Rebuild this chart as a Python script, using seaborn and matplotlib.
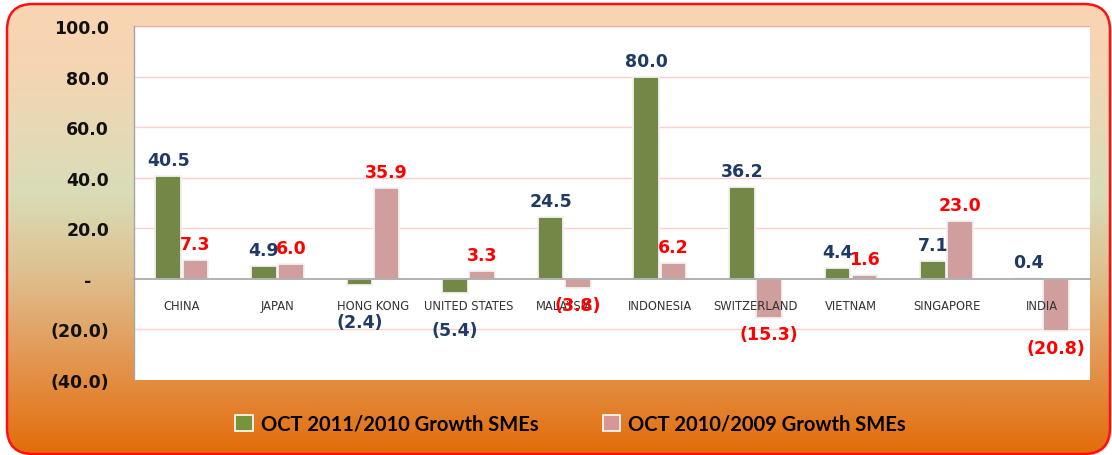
import numpy as np
import pandas as pd
import matplotlib
matplotlib.use("Agg")
import matplotlib.pyplot as plt
import seaborn as sns
from matplotlib.patches import FancyBboxPatch, Patch
from matplotlib.colors import LinearSegmentedColormap
from matplotlib.ticker import FuncFormatter, FixedLocator

# ---- data ----
countries = ["CHINA", "JAPAN", "HONG KONG", "UNITED STATES", "MALAYSIA",
             "INDONESIA", "SWITZERLAND", "VIETNAM", "SINGAPORE", "INDIA"]
growth_2011 = [40.5, 4.9, -2.4, -5.4, 24.5, 80.0, 36.2, 4.4, 7.1, 0.4]
growth_2010 = [7.3, 6.0, 35.9, 3.3, -3.8, 6.2, -15.3, 1.6, 23.0, -20.8]
series_names = ["OCT 2011/2010 Growth SMEs", "OCT 2010/2009 Growth SMEs"]
y_ticks = [-40, -20, 0, 20, 40, 60, 80, 100]

bar_colors = {series_names[0]: "#77933C", series_names[1]: "#D99694"}
label_colors = {series_names[0]: "#1F3A64", series_names[1]: "#FF0000"}

df = pd.DataFrame({
    "country": countries * 2,
    "value": growth_2011 + growth_2010,
    "series": [series_names[0]] * len(countries) + [series_names[1]] * len(countries),
})

sns.set_theme(style="white")
plt.rcParams["font.family"] = ["DejaVu Sans"]

W, H, DPI = 1112, 456, 100
fig = plt.figure(figsize=(W / DPI, H / DPI), dpi=DPI)
fig.patch.set_facecolor("white")

# ---- background panel with gradient and rounded red border ----
bg = fig.add_axes([0, 0, 1, 1], zorder=-5)
bg.set_xlim(0, W)
bg.set_ylim(H, 0)
bg.axis("off")
cmap = LinearSegmentedColormap.from_list("bgc", [
    (0.0, "#F9D4B3"), (0.12, "#F6D5B2"), (0.42, "#D9DDB8"),
    (0.60, "#DEC08F"), (0.80, "#E3954F"), (1.0, "#E36C0A")])
grad = np.linspace(0, 1, 256).reshape(-1, 1)
im = bg.imshow(grad, cmap=cmap, aspect="auto", extent=(7, 1110, 455, 5),
               interpolation="bilinear")
shadow = FancyBboxPatch((10, 8), 1102, 449, boxstyle="round,pad=0,rounding_size=26",
                        facecolor="#D8D8D8", edgecolor="none", zorder=-1, alpha=0.6)
bg.add_patch(shadow)
border = FancyBboxPatch((7, 5), 1103, 450, boxstyle="round,pad=0,rounding_size=26",
                        facecolor="none", edgecolor="#FF1010", linewidth=1.8, zorder=3)
bg.add_patch(border)
im.set_clip_path(border)
im.set_zorder(1)

# ---- main chart ----
ax = fig.add_axes([134 / W, 1 - 381 / H, (1090 - 134) / W, (381 - 27) / H])
ax.set_facecolor("white")
sns.barplot(data=df, x="country", y="value", hue="series", order=countries,
            hue_order=series_names, palette=bar_colors, width=0.57, gap=0.06,
            edgecolor="#F2F2F2", linewidth=1.3, legend=False, ax=ax, zorder=3)

ax.set_ylim(-40, 100)
ax.set_xlim(-0.5, len(countries) - 0.5)
ax.set_xlabel("")
ax.set_ylabel("")

ax.yaxis.set_major_locator(FixedLocator(y_ticks))

def yfmt(v, pos):
    if abs(v) < 1e-9:
        return "-   "
    if v < 0:
        return f"({abs(v):.1f})"
    return f"{v:.1f}"

ax.yaxis.set_major_formatter(FuncFormatter(yfmt))
ax.tick_params(axis="y", which="major", direction="out", length=5, width=1,
               color="#A6A6A6", pad=13, labelsize=12.5, labelcolor="#111111")
for t in ax.get_yticklabels():
    t.set_fontweight("bold")

ax.grid(False)
for yv in y_ticks:
    if yv not in (0, -40):
        ax.axhline(yv, color="#F6A29C" if yv == 100 else "#FFCFCF",
                   linewidth=1.0, zorder=1)

for s in ["top", "right"]:
    ax.spines[s].set_visible(False)
ax.spines["left"].set_color("#A6A6A6")
ax.spines["left"].set_linewidth(1.0)
ax.spines["bottom"].set_position(("data", 0))
ax.spines["bottom"].set_color("#A6A6A6")
ax.spines["bottom"].set_linewidth(1.2)
ax.spines["bottom"].set_zorder(4)

ax.set_xticks(range(len(countries)))
ax.set_xticklabels([])
ax.set_xticks(np.arange(-0.5, len(countries), 1.0), minor=True)
ax.tick_params(axis="x", which="major", length=0)
ax.tick_params(axis="x", which="minor", direction="out", length=4, width=1,
               color="#A6A6A6")

# category labels drawn above the bars (as in the reference)
for i, c in enumerate(countries):
    ax.annotate(c, (i, 0), xytext=(0, -19), textcoords="offset points",
                ha="center", va="center", fontsize=8.3, color="#333333",
                zorder=7, annotation_clip=False)

# ---- value labels ----
for cont, name in zip(ax.containers, series_names):
    neg_off = -27 if name == series_names[0] else -12
    for bar in cont:
        val = bar.get_y() if bar.get_y() < 0 else bar.get_height()
        txt = f"({abs(val):.1f})" if val < 0 else f"{val:.1f}"
        x = bar.get_x() + bar.get_width() / 2
        off = 11.5 if val >= 0 else neg_off
        ax.annotate(txt, (x, val), xytext=(0, off), textcoords="offset points",
                    ha="center", va="center", fontsize=12.5, fontweight="bold",
                    color=label_colors[name], zorder=8, annotation_clip=False)

# ---- legend ----
handles = [Patch(facecolor=bar_colors[n], edgecolor="white", linewidth=1.2, label=n)
           for n in series_names]
leg = fig.legend(handles=handles, loc="center", bbox_to_anchor=(0.513, 0.068), ncol=2,
                 frameon=False, handlelength=0.85, handleheight=0.85, handletextpad=0.4,
                 columnspacing=3.2, prop={"family": "Lato", "weight": "bold", "size": 14.5})
for t in leg.get_texts():
    t.set_color("black")

fig.savefig("out.png", dpi=DPI)
